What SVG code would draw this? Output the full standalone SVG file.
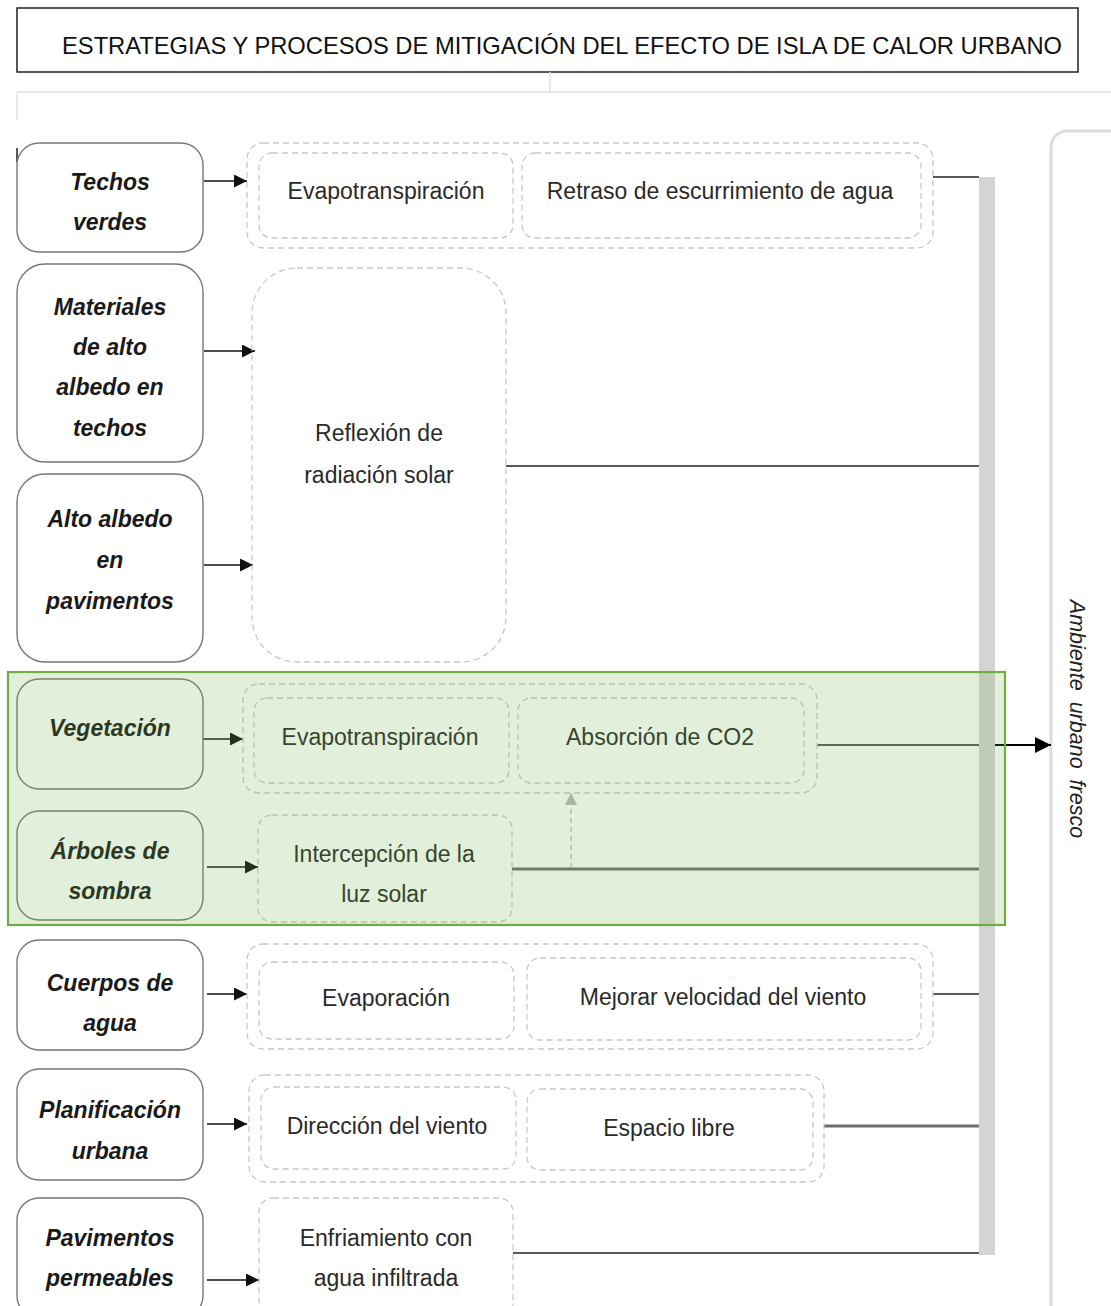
<svg xmlns="http://www.w3.org/2000/svg" width="1111" height="1306" viewBox="0 0 1111 1306">
<defs>
<marker id="arr" viewBox="0 0 10 10" refX="10" refY="5" markerWidth="14" markerHeight="13" markerUnits="userSpaceOnUse" orient="auto"><path d="M0,0 L10,5 L0,10 z" fill="#111"/></marker>
<marker id="arrBig" viewBox="0 0 10 10" refX="10" refY="5" markerWidth="18" markerHeight="16" markerUnits="userSpaceOnUse" orient="auto"><path d="M0,0 L10,5 L0,10 z" fill="#000"/></marker>
<marker id="arrGray" viewBox="0 0 10 10" refX="10" refY="5" markerWidth="13" markerHeight="12" markerUnits="userSpaceOnUse" orient="auto"><path d="M0,0 L10,5 L0,10 z" fill="#b8b8b8"/></marker>
<style>
.strat{fill:#fff;stroke:#777;stroke-width:1.4}
.lbl{font-family:"Liberation Sans",Arial,sans-serif;font-size:23px;font-weight:bold;font-style:italic;fill:#1a1a1a;text-anchor:middle}
.grp{fill:none;stroke:#c8c8c8;stroke-width:1.3;stroke-dasharray:6,4}
.proc{fill:none;stroke:#c8c8c8;stroke-width:1.3;stroke-dasharray:6,4}
.ptxt{font-family:"Liberation Sans",Arial,sans-serif;font-size:23px;fill:#2a2a2a;text-anchor:middle}
.ar{stroke:#111;stroke-width:1.6;fill:none;marker-end:url(#arr)}
.ln{stroke:#222;stroke-width:1.5;fill:none}
.lnG{stroke:#6e6e6e;stroke-width:3;fill:none}
.faint{stroke:#e2e2e2;stroke-width:1.5;fill:none}
</style>
</defs>
<rect width="1111" height="1306" fill="#fff"/>

<g id="title">
<rect x="17" y="8" width="1061" height="64" fill="#fff" stroke="#111" stroke-width="1.4"/>
<text x="562" y="54" font-family="'Liberation Sans',Arial,sans-serif" font-size="24" fill="#111" text-anchor="middle" textLength="1000" lengthAdjust="spacingAndGlyphs">ESTRATEGIAS Y PROCESOS DE MITIGACIÓN DEL EFECTO DE ISLA DE CALOR URBANO</text>
</g>

<g id="frame">
<path class="faint" d="M550,72 V92 M17,92 H1111 M17,92 V120"/>
<line x1="17" y1="148" x2="17" y2="162" stroke="#222" stroke-width="1.5"/>
</g>

<g id="bar">
<rect x="979" y="177" width="16" height="1078" fill="#d4d4d4"/>
</g>

<g id="ambiente">
<rect x="1051" y="131" width="90" height="1190" rx="16" fill="#fff" stroke="#dcdcdc" stroke-width="3"/>
<text transform="translate(1070,719) rotate(90)" font-family="'Liberation Sans',Arial,sans-serif" font-size="21.5" font-style="italic" fill="#222" text-anchor="middle" word-spacing="5">Ambiente urbano fresco</text>
</g>

<g id="connectors">
<path class="ar" d="M204,181 H247"/>
<path class="ar" d="M204,351 H255"/>
<path class="ar" d="M204,565 H253"/>
<path class="ar" d="M203,739 H243"/>
<path class="ar" d="M207,867 H258"/>
<path class="ar" d="M207,994 H247"/>
<path class="ar" d="M207,1124 H247"/>
<path class="ar" d="M207,1280 H259"/>
<path class="ln" d="M933,177 H979"/>
<path class="ln" d="M506,466 H979"/>
<path class="ln" d="M817,745 H979"/>
<path d="M995,745 H1051" stroke="#000" stroke-width="2" fill="none" marker-end="url(#arrBig)"/>
<path class="lnG" d="M512,869 H979"/>
<path d="M571,868 V793" stroke="#b8b8b8" stroke-width="1.3" stroke-dasharray="5,4" fill="none" marker-end="url(#arrGray)"/>
<path class="ln" d="M933,994 H979"/>
<path class="lnG" d="M824,1126 H979"/>
<path class="ln" d="M513,1253 H979"/>
</g>

<g id="techos-verdes">
<rect class="strat" x="17" y="143" width="186" height="109" rx="22"/>
<text class="lbl" x="110" y="190">Techos</text>
<text class="lbl" x="110" y="230">verdes</text>
</g>
<g id="materiales">
<rect class="strat" x="17" y="264" width="186" height="198" rx="28"/>
<text class="lbl" x="110" y="315">Materiales</text>
<text class="lbl" x="110" y="355">de alto</text>
<text class="lbl" x="110" y="395">albedo en</text>
<text class="lbl" x="110" y="436">techos</text>
</g>
<g id="alto-albedo">
<rect class="strat" x="17" y="474" width="186" height="188" rx="28"/>
<text class="lbl" x="110" y="527">Alto albedo</text>
<text class="lbl" x="110" y="568">en</text>
<text class="lbl" x="110" y="609">pavimentos</text>
</g>
<g id="vegetacion">
<rect class="strat" x="17" y="679" width="186" height="110" rx="22"/>
<text class="lbl" x="110" y="736">Vegetación</text>
</g>
<g id="arboles">
<rect class="strat" x="17" y="811" width="186" height="109" rx="22"/>
<text class="lbl" x="110" y="859">Árboles de</text>
<text class="lbl" x="110" y="899">sombra</text>
</g>
<g id="cuerpos">
<rect class="strat" x="17" y="940" width="186" height="110" rx="22"/>
<text class="lbl" x="110" y="991">Cuerpos de</text>
<text class="lbl" x="110" y="1031">agua</text>
</g>
<g id="planificacion">
<rect class="strat" x="17" y="1069" width="186" height="111" rx="22"/>
<text class="lbl" x="110" y="1118">Planificación</text>
<text class="lbl" x="110" y="1159">urbana</text>
</g>
<g id="pavimentos-permeables">
<rect class="strat" x="17" y="1198" width="186" height="120" rx="22"/>
<text class="lbl" x="110" y="1246">Pavimentos</text>
<text class="lbl" x="110" y="1286">permeables</text>
</g>

<g id="proc-row1">
<rect class="grp" x="247" y="143" width="686" height="105" rx="16"/>
<rect class="proc" x="259" y="153" width="254" height="85" rx="13"/>
<rect class="proc" x="522" y="153" width="399" height="85" rx="13"/>
<text class="ptxt" x="386" y="199">Evapotranspiración</text>
<text class="ptxt" x="720" y="199">Retraso de escurrimiento de agua</text>
</g>
<g id="proc-reflexion">
<rect class="proc" x="252" y="268" width="254" height="394" rx="45"/>
<text class="ptxt" x="379" y="441">Reflexión de</text>
<text class="ptxt" x="379" y="483">radiación solar</text>
</g>
<g id="proc-vegetacion">
<rect class="grp" x="243" y="684" width="574" height="109" rx="16"/>
<rect class="proc" x="254" y="698" width="255" height="85" rx="13"/>
<rect class="proc" x="518" y="698" width="286" height="85" rx="13"/>
<text class="ptxt" x="380" y="745">Evapotranspiración</text>
<text class="ptxt" x="660" y="745">Absorción de CO2</text>
</g>
<g id="proc-intercepcion">
<rect class="proc" x="258" y="815" width="254" height="107" rx="14"/>
<text class="ptxt" x="384" y="862">Intercepción de la</text>
<text class="ptxt" x="384" y="902">luz solar</text>
</g>
<g id="proc-agua">
<rect class="grp" x="247" y="944" width="686" height="105" rx="16"/>
<rect class="proc" x="259" y="962" width="255" height="77" rx="13"/>
<rect class="proc" x="527" y="958" width="394" height="82" rx="13"/>
<text class="ptxt" x="386" y="1006">Evaporación</text>
<text class="ptxt" x="723" y="1005">Mejorar velocidad del viento</text>
</g>
<g id="proc-planificacion">
<rect class="grp" x="249" y="1075" width="575" height="107" rx="16"/>
<rect class="proc" x="261" y="1087" width="255" height="82" rx="13"/>
<rect class="proc" x="527" y="1089" width="286" height="81" rx="13"/>
<text class="ptxt" x="387" y="1134">Dirección del viento</text>
<text class="ptxt" x="669" y="1136">Espacio libre</text>
</g>
<g id="proc-enfriamiento">
<rect class="proc" x="259" y="1198" width="254" height="120" rx="14"/>
<text class="ptxt" x="386" y="1246">Enfriamiento con</text>
<text class="ptxt" x="386" y="1286">agua infiltrada</text>
</g>

<g id="highlight">
<rect x="8" y="672" width="997" height="253" fill="#70ad47" fill-opacity="0.2" stroke="#70ad47" stroke-width="2.2"/>
</g>
</svg>
